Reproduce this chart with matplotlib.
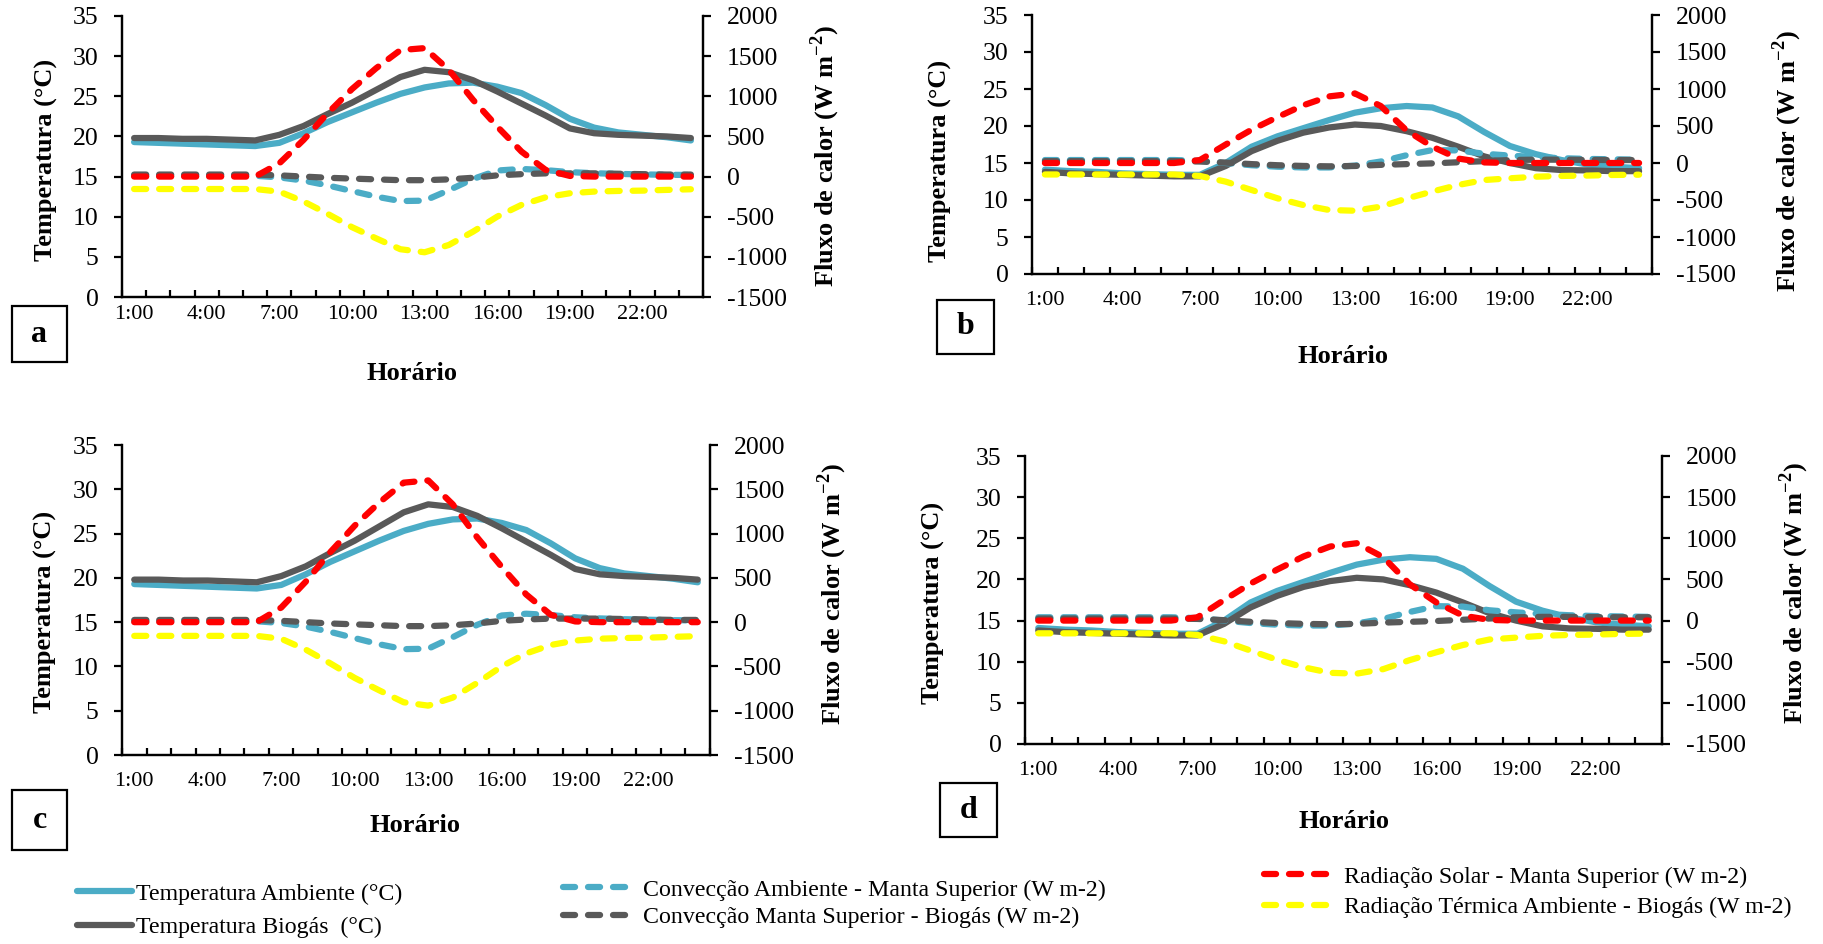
import matplotlib.pyplot as plt
from matplotlib.patches import Rectangle

plt.rcParams['font.family'] = ['Liberation Serif', 'DejaVu Serif']
plt.rcParams['mathtext.fontset'] = 'custom'
plt.rcParams['mathtext.rm'] = 'Liberation Serif'
plt.rcParams['mathtext.bf'] = 'Liberation Serif:bold'
plt.rcParams['lines.scale_dashes'] = False
plt.rcParams['axes.unicode_minus'] = False

W, H = 1823, 944

# 24 hourly categories, 1:00 .. 24:00
hours = list(range(24))
tick_pos = [0, 3, 6, 9, 12, 15, 18, 21]
tick_labels = ['1:00', '4:00', '7:00', '10:00', '13:00', '16:00', '19:00', '22:00']

# panels a and c (same data)
temp_amb_ac = [19.3, 19.2, 19.1, 19.0, 18.9, 18.8, 19.2, 20.4, 21.8, 23.0, 24.2, 25.3,
               26.1, 26.6, 26.7, 26.2, 25.4, 23.9, 22.2, 21.1, 20.5, 20.2, 19.9, 19.5]
temp_bio_ac = [19.8, 19.8, 19.7, 19.7, 19.6, 19.5, 20.2, 21.3, 22.8, 24.2, 25.8, 27.4,
               28.3, 28.0, 27.0, 25.6, 24.1, 22.6, 21.0, 20.4, 20.2, 20.1, 20.0, 19.8]
conv_amb_ac = [10, 10, 10, 10, 10, 10, -10, -50, -110, -180, -250, -305,
               -300, -170, -30, 75, 95, 80, 55, 42, 33, 27, 22, 20]
conv_man_ac = [25, 25, 25, 25, 25, 25, 15, 0, -15, -25, -35, -45,
               -45, -35, -15, 15, 30, 40, 40, 40, 35, 30, 25, 25]
rad_sol_ac = [0, 0, 0, 0, 0, 0, 165, 457, 790, 1090, 1350, 1575,
              1600, 1330, 956, 623, 312, 83, 8, 0, 0, 0, 0, 0]
rad_ter_ac = [-155, -155, -155, -155, -155, -155, -188, -310, -465, -630, -770, -905,
              -943, -852, -686, -499, -353, -258, -208, -187, -179, -175, -166, -158]

# panels b and d (same data)
temp_amb_bd = [14.1, 13.9, 13.8, 13.6, 13.5, 13.4, 13.4, 15.0, 17.2, 18.6, 19.7, 20.8,
               21.8, 22.4, 22.7, 22.5, 21.3, 19.2, 17.3, 16.2, 15.4, 14.8, 14.5, 14.3]
temp_bio_bd = [13.8, 13.6, 13.5, 13.4, 13.3, 13.2, 13.2, 14.6, 16.6, 18.0, 19.1, 19.8,
               20.2, 20.0, 19.3, 18.4, 17.2, 15.9, 15.0, 14.3, 14.05, 14.0, 13.9, 13.9]
conv_amb_bd = [40, 40, 40, 40, 40, 40, 30, 0, -30, -50, -60, -60,
               -35, 20, 105, 175, 170, 125, 100, 80, 65, 55, 50, 45]
conv_man_bd = [25, 25, 25, 25, 25, 25, 20, 5, -15, -30, -40, -45,
               -40, -25, -15, -5, 10, 25, 40, 45, 45, 42, 40, 40]
rad_sol_bd = [0, 0, 0, 0, 0, 0, 40, 250, 450, 620, 780, 900,
              940, 770, 440, 220, 60, 8, 0, 0, 0, 0, 0, 0]
rad_ter_bd = [-155, -155, -155, -155, -155, -155, -175, -252, -365, -477, -568, -635,
              -645, -590, -480, -385, -297, -230, -207, -185, -175, -170, -162, -158]

names = ['Temperatura Ambiente (°C)', 'Temperatura Biogás  (°C)',
         'Convecção Ambiente - Manta Superior (W m-2)', 'Convecção Manta Superior - Biogás (W m-2)',
         'Radiação Solar - Manta Superior (W m-2)', 'Radiação Térmica Ambiente - Biogás (W m-2)']
c_blue, c_gray, c_red, c_yellow = '#4BACC6', '#595959', '#FF0000', '#FFFF00'

fig = plt.figure(figsize=(W / 100, H / 100), dpi=100)

LW = 4.5
DASH = (8.7, 9.3)


def fx(x):
    return x / W


def fy(y):
    return 1 - y / H


def panel(box, data, letter, letter_box, ylab_l, ylab_r, xlab, tick_pad):
    l, t, r, b = box
    ax = fig.add_axes([fx(l), fy(b), (r - l) / W, (b - t) / H])
    ax2 = ax.twinx()
    t_amb, t_bio, c_amb, c_man, r_sol, r_ter = data
    lines = []
    lines += ax.plot(hours, t_amb, color=c_blue, lw=LW, solid_joinstyle='round', solid_capstyle='round')
    lines += ax.plot(hours, t_bio, color=c_gray, lw=LW, solid_joinstyle='round', solid_capstyle='round')
    for vals, col in [(c_amb, c_blue), (c_man, c_gray), (r_sol, c_red), (r_ter, c_yellow)]:
        lines += ax2.plot(hours, vals, color=col, lw=LW, dashes=DASH,
                          dash_capstyle='round', dash_joinstyle='round')

    ax.set_xlim(-0.5, 23.5)
    ax.set_ylim(0, 35)
    ax.set_yticks(range(0, 36, 5))
    ax2.set_ylim(-1500, 2000)
    ax2.set_yticks(range(-1500, 2001, 500))
    ax.set_xticks(tick_pos, tick_labels)
    ax.set_xticks([h - 0.5 for h in hours] + [23.5], minor=True)

    for a in (ax, ax2):
        a.spines['top'].set_visible(False)
        for s in a.spines.values():
            s.set_linewidth(1.6)
        a.set_facecolor('none')
    ax.tick_params(axis='x', which='major', length=0, labelsize=16, pad=tick_pad)
    ax.tick_params(axis='x', which='minor', direction='in', length=5, width=1.6)
    ax.tick_params(axis='y', direction='out', length=6, width=1.6, labelsize=18.5, pad=11)
    ax2.tick_params(axis='y', direction='out', length=6, width=1.6, labelsize=18.5, pad=11)

    fig.text(fx(ylab_l[0]), fy(ylab_l[1]), 'Temperatura (°C)', rotation=90,
             ha='center', va='center', fontsize=19, fontweight='bold')
    fig.text(fx(ylab_r[0]), fy(ylab_r[1]), r'Fluxo de calor (W m$^{\mathbf{-2}}$)', rotation=90,
             ha='center', va='center', fontsize=19, fontweight='bold')
    fig.text(fx(xlab[0]), fy(xlab[1]), 'Horário', ha='center', va='center',
             fontsize=19, fontweight='bold')

    x0, y0, x1, y1 = letter_box
    fig.add_artist(Rectangle((fx(x0), fy(y1)), (x1 - x0) / W, (y1 - y0) / H,
                             transform=fig.transFigure, fill=False, lw=1.6, ec='black'))
    fig.text(fx((x0 + x1) / 2), fy((y0 + y1) / 2), letter, ha='center', va='center',
             fontsize=23, fontweight='bold')
    return lines


data_ac = (temp_amb_ac, temp_bio_ac, conv_amb_ac, conv_man_ac, rad_sol_ac, rad_ter_ac)
data_bd = (temp_amb_bd, temp_bio_bd, conv_amb_bd, conv_man_bd, rad_sol_bd, rad_ter_bd)

lines = panel((122, 16, 703, 297), data_ac, 'a', (12, 306, 67, 362),
              (46, 160), (825, 156), (412, 374), 5.5)
panel((1032, 15, 1652, 274), data_bd, 'b', (937, 300, 994, 354),
      (940, 161), (1787, 161), (1343, 357), 12)
panel((122, 445, 710, 755), data_ac, 'c', (12, 790, 67, 850),
      (45, 612), (832, 594), (415, 826), 12)
panel((1025, 456, 1662, 744), data_bd, 'd', (940, 783, 997, 837),
      (933, 603), (1794, 593), (1344, 822), 12)

leg_kw = dict(loc='center left', frameon=False, fontsize=17.2, borderpad=0, borderaxespad=0)
fig.legend(lines[0:2], names[0:2], bbox_to_anchor=(fx(77), fy(910.5)),
           handlelength=2.3, handletextpad=0.17, labelspacing=0.48, **leg_kw)
fig.legend(lines[2:4], names[2:4], bbox_to_anchor=(fx(563), fy(903.5)),
           handlelength=2.75, handletextpad=0.6, labelspacing=0.23, **leg_kw)
fig.legend(lines[4:6], names[4:6], bbox_to_anchor=(fx(1264), fy(892)),
           handlelength=2.75, handletextpad=0.6, labelspacing=0.35, **leg_kw)

fig.savefig('out.png', dpi=100)
